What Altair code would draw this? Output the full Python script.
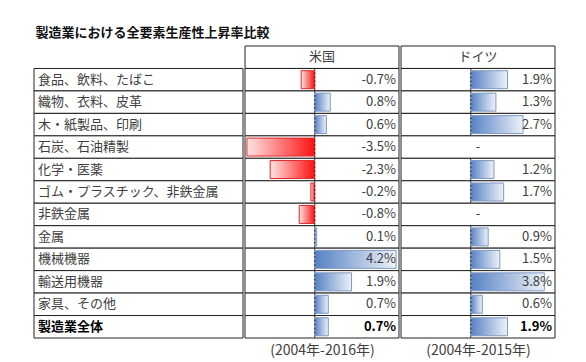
import altair as alt
import pandas as pd

title_text = "製造業における全要素生産性上昇率比較"
categories = ["食品、飲料、たばこ", "織物、衣料、皮革", "木・紙製品、印刷", "石炭、石油精製",
              "化学・医薬", "ゴム・プラスチック、非鉄金属", "非鉄金属", "金属", "機械機器",
              "輸送用機器", "家具、その他", "製造業全体"]
us_values = [-0.7, 0.8, 0.6, -3.5, -2.3, -0.2, -0.8, 0.1, 4.2, 1.9, 0.7, 0.7]
de_values = [1.9, 1.3, 2.7, None, 1.2, 1.7, None, 0.9, 1.5, 3.8, 0.6, 1.9]
col_headers = ["米国", "ドイツ"]
periods = ["(2004年-2016年)", "(2004年-2015年)"]
bold_rows = ["製造業全体"]

FONT = "Noto Sans CJK JP"
TXT = "#404040"
LINE = "#222222"
H = 292
LW = 209
CW = 154
XDOM = [-3.6, 4.35]
HEADER_KEY = "_header"
row_domain = [HEADER_KEY] + categories


def fmt(v):
    return "-" if v is None else f"{v:.1f}%"


df = pd.DataFrame({
    "cat": categories,
    "us": us_values,
    "de": de_values,
    "us_t": [fmt(v) for v in us_values],
    "de_t": [fmt(v) for v in de_values],
    "bold": [c in bold_rows for c in categories],
})

yscale = alt.Scale(domain=row_domain, paddingInner=0, paddingOuter=0)
yenc = alt.Y("cat:N", scale=yscale, axis=None)

# label column
lab_base = alt.Chart(df)
lab_cells = lab_base.mark_rect(fill="white", stroke=LINE, strokeWidth=1).encode(
    x=alt.value(0), x2=alt.value(LW), y=yenc)
lab_text = lab_base.transform_filter("!datum.bold").mark_text(
    align="left", baseline="middle", font=FONT, fontSize=13, color=TXT).encode(
    x=alt.value(4), y=yenc, text="cat:N")
lab_text_b = lab_base.transform_filter("datum.bold").mark_text(
    align="left", baseline="middle", font=FONT, fontSize=13, fontWeight="bold", color="#000000").encode(
    x=alt.value(4), y=yenc, text="cat:N")
label_panel = alt.layer(lab_cells, lab_text, lab_text_b).properties(width=LW, height=H)

red_grad = alt.Gradient(gradient="linear", x1=0, x2=1, y1=0, y2=0,
                        stops=[alt.GradientStop(color="#fde4e4", offset=0),
                               alt.GradientStop(color="#ff1010", offset=1)])
blue_grad = alt.Gradient(gradient="linear", x1=0, x2=1, y1=0, y2=0,
                         stops=[alt.GradientStop(color="#5581c4", offset=0),
                                alt.GradientStop(color="#eef2f9", offset=1)])


def value_panel(field, header, period):
    xs = alt.Scale(domain=XDOM, nice=False, zero=False)
    ax = alt.Axis(title=period, labels=False, ticks=False, domain=False, grid=False,
                  titleFont=FONT, titleFontSize=14, titleFontWeight="normal",
                  titleColor=TXT, titlePadding=5)
    base = alt.Chart(df).transform_calculate(v=f"datum.{field}", t=f"datum.{field}_t", z="0")
    cells = alt.Chart(pd.DataFrame({"cat": row_domain, "lo": XDOM[0], "hi": XDOM[1]})).mark_rect(
        fill="white", stroke=LINE, strokeWidth=1).encode(
        x=alt.X("lo:Q", scale=xs, axis=ax), x2="hi:Q", y=yenc)
    neg = base.transform_filter("datum.v != null && datum.v < 0").mark_bar(
        height=alt.RelativeBandSize(band=0.8), fill=red_grad, stroke="#e02828", strokeWidth=1).encode(
        x=alt.X("v:Q", scale=xs, axis=ax), x2=alt.datum(0), y=yenc)
    pos = base.transform_filter("datum.v != null && datum.v >= 0").mark_bar(
        height=alt.RelativeBandSize(band=0.8), fill=blue_grad, stroke="#7f98c0", strokeWidth=1).encode(
        x=alt.X("v:Q", scale=xs, axis=ax), x2=alt.datum(0), y=yenc)
    zero = base.transform_filter("datum.v != null").mark_rule(
        color=LINE, strokeDash=[2, 2], strokeWidth=1).encode(
        x=alt.X("z:Q", scale=xs, axis=ax),
        y=alt.Y("cat:N", scale=yscale, axis=None, bandPosition=0),
        y2=alt.Y2("cat:N", bandPosition=1))
    vals = base.transform_filter("datum.v != null && !datum.bold").mark_text(
        align="right", baseline="middle", font=FONT, fontSize=13, color=TXT).encode(
        x=alt.value(CW - 3), y=yenc, text="t:N")
    vals_b = base.transform_filter("datum.v != null && datum.bold").mark_text(
        align="right", baseline="middle", font=FONT, fontSize=13, fontWeight="bold", color="#000000").encode(
        x=alt.value(CW - 3), y=yenc, text="t:N")
    miss = base.transform_filter("datum.v == null").mark_text(
        align="center", baseline="middle", font=FONT, fontSize=13, color=TXT).encode(
        x=alt.value(CW / 2), y=yenc, text="t:N")
    head = alt.Chart(pd.DataFrame({"cat": [HEADER_KEY], "label": [header]})).mark_text(
        align="center", baseline="middle", font=FONT, fontSize=13, color=TXT).encode(
        x=alt.value(CW / 2), y=yenc, text="label:N")
    return alt.layer(cells, neg, pos, zero, vals, vals_b, miss, head).properties(width=CW, height=H)


us_panel = value_panel("us", col_headers[0], periods[0])
de_panel = value_panel("de", col_headers[1], periods[1])

chart = alt.hconcat(label_panel, us_panel, de_panel, spacing=0).properties(
    title=alt.TitleParams(title_text, anchor="start", font=FONT, fontSize=13, fontWeight="bold",
                          color="#111111", dx=2, offset=6),
    padding={"left": 25, "top": 18, "right": 5, "bottom": 5},
    background="white",
).configure_view(stroke=None)

chart.save("out.html", embed_options={"renderer": "svg", "actions": False})
